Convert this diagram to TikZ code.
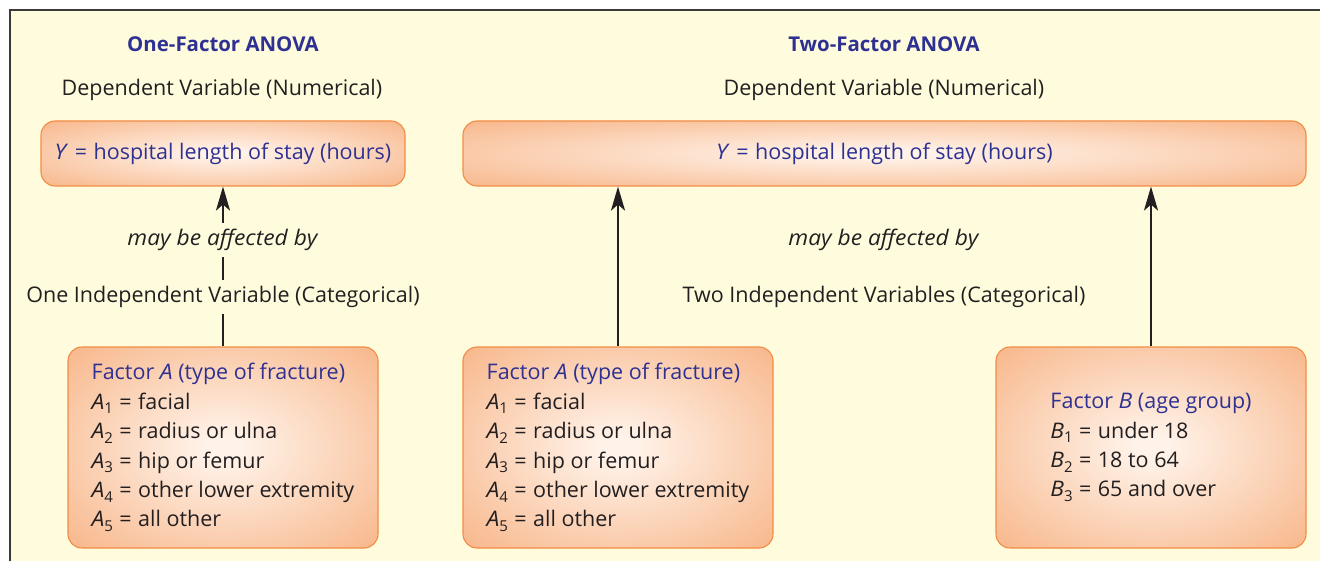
\documentclass[tikz,border=0pt]{standalone}
\usepackage{fontspec}
\setmainfont{Open Sans}[ItalicFeatures={FakeStretch=1.06}]
\usetikzlibrary{arrows.meta}
\definecolor{cream}{HTML}{FFFCDE}
\definecolor{navy}{HTML}{2E3192}
\definecolor{ink}{HTML}{231F20}
\definecolor{framegray}{HTML}{3A3A3A}
\definecolor{boxedge}{HTML}{F28C45}
\definecolor{boxouter}{HTML}{F6AB78}
\definecolor{boxinner}{HTML}{FFF2E8}
\pgfdeclareradialshading{boxshade}{\pgfpoint{0bp}{0bp}}{color(0bp)=(boxinner); color(3bp)=(boxinner); color(42bp)=(boxouter); color(80bp)=(boxouter)}
\newcommand\mainsize{\fontsize{21.5}{29.4}\selectfont}
\newcommand\headsize{\fontsize{20.4}{29.4}\selectfont}
\newcommand\subnum[1]{\raisebox{-0.4ex}{\fontsize{15}{15}\selectfont #1}}
\newcommand\eqs{\hspace{0.3em}=\hspace{0.3em}}
\begin{document}
\begin{tikzpicture}[x=1pt,y=-1pt,
  every node/.style={font=\mainsize, text=ink},
  head/.style={font=\headsize\bfseries, text=navy},
  shadebox/.style={draw=boxedge, line width=1.1pt, rounded corners=14pt, shade, shading=boxshade, inner sep=0pt},
  ybox/.style={shadebox, minimum height=65pt, text=navy},
  fbox/.style={shadebox, minimum width=310pt, minimum height=201pt, align=left},
  lab/.style={inner sep=0pt, minimum height=34pt},
  conn/.style={line width=2.6pt, draw=ink},
  arr/.style={conn, -{Stealth[length=24pt,width=14pt,inset=6pt]}}]
\useasboundingbox (0,0) rectangle (1320,561);
\fill[cream] (10,10) rectangle (1320,561);
\draw[line width=1.5pt, draw=framegray] (10,561) -- (10,10) -- (1320,10);
% one-factor
\node[head] (h1) at (223,44) {One-Factor ANOVA};
\node (dv1) at (222,89.5) {Dependent Variable (Numerical)};
\node[ybox, minimum width=364pt] (y1) at (223,153.5) {\raisebox{-2pt}{\textit{Y}\eqs{}hospital length of stay (hours)}};
\node[lab] (may1) at (223,240) {\textit{may be affected by}};
\node[lab] (iv1) at (223,297) {One Independent Variable (Categorical)};
\node[fbox] (a1) at (223,447.5) {{\color{navy}Factor \textit{A} (type of fracture)}\\
\textit{A}\subnum{1}\eqs{}facial\\
\textit{A}\subnum{2}\eqs{}radius or ulna\\
\textit{A}\subnum{3}\eqs{}hip or femur\\
\textit{A}\subnum{4}\eqs{}other lower extremity\\
\textit{A}\subnum{5}\eqs{}all other};
\draw[conn] (a1.north) -- (iv1.south);
\draw[conn] (iv1.north) -- (may1.south);
\draw[arr] (may1.north) -- (y1.south);
% two-factor
\node[head] (h2) at (884,44) {Two-Factor ANOVA};
\node (dv2) at (884,89.5) {Dependent Variable (Numerical)};
\node[ybox, minimum width=843pt] (y2) at (884.5,153.5) {\raisebox{-2pt}{\textit{Y}\eqs{}hospital length of stay (hours)}};
\node[lab] (may2) at (884,240) {\textit{may be affected by}};
\node[lab] (iv2) at (884,297) {Two Independent Variables (Categorical)};
\node[fbox] (a2) at (618,447.5) {{\color{navy}Factor \textit{A} (type of fracture)}\\
\textit{A}\subnum{1}\eqs{}facial\\
\textit{A}\subnum{2}\eqs{}radius or ulna\\
\textit{A}\subnum{3}\eqs{}hip or femur\\
\textit{A}\subnum{4}\eqs{}other lower extremity\\
\textit{A}\subnum{5}\eqs{}all other};
\node[fbox] (b) at (1151,447.5) {{\color{navy}Factor \textit{B} (age group)}\\
\textit{B}\subnum{1}\eqs{}under 18\\
\textit{B}\subnum{2}\eqs{}18 to 64\\
\textit{B}\subnum{3}\eqs{}65 and over};
\draw[arr] (a2.north) -- (a2.north |- y2.south);
\draw[arr] (b.north) -- (b.north |- y2.south);
\end{tikzpicture}
\end{document}
